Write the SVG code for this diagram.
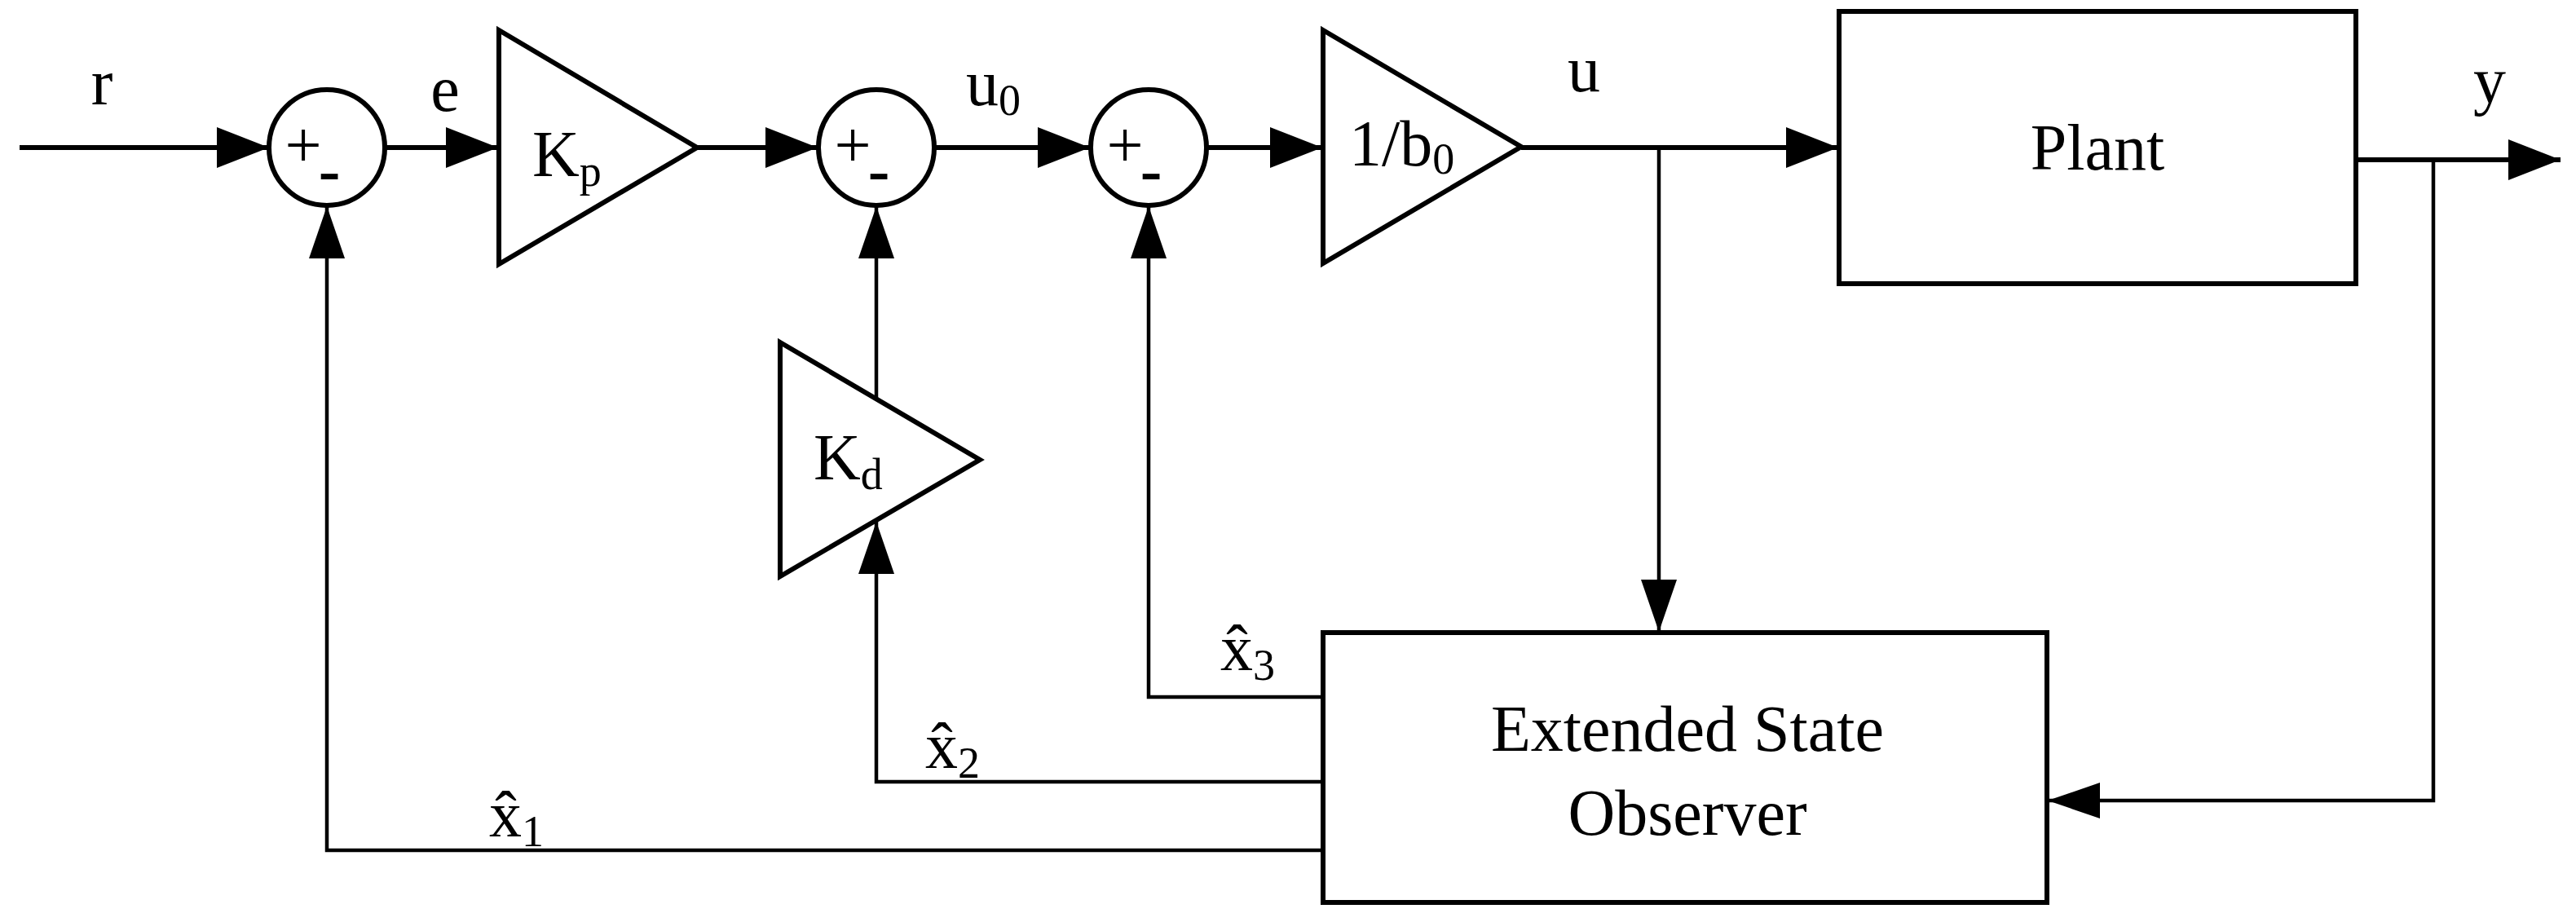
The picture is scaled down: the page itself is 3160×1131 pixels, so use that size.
<svg xmlns="http://www.w3.org/2000/svg" width="3160" height="1131" viewBox="0 0 3160 1131">
<style>
.s{fill:none;stroke:#000;stroke-width:6;stroke-linejoin:miter}
.w{fill:none;stroke:#000;stroke-width:6}
.f{fill:none;stroke:#000;stroke-width:4.5}
.t{font-family:"Liberation Serif",serif;font-size:80px;fill:#000}
.sub{font-size:54px}
.ah{fill:#000}
</style>
<defs>
<marker id="a" markerUnits="userSpaceOnUse" markerWidth="70" markerHeight="60" refX="64" refY="25" orient="auto"><path d="M0,0 L64,25 L0,50 Z" class="ah"/></marker>
<marker id="b" markerUnits="userSpaceOnUse" markerWidth="70" markerHeight="60" refX="64" refY="22" orient="auto"><path d="M0,0 L64,22 L0,44 Z" class="ah"/></marker>
</defs>
<g id="sum1"><circle cx="401" cy="181" r="71" class="s"/><text x="372" y="205" class="t" font-size="70" text-anchor="middle">+</text><text x="404" y="236" class="t" text-anchor="middle" font-weight="bold">-</text></g>
<g id="sum2"><circle cx="1075" cy="181" r="71" class="s"/><text x="1046" y="205" class="t" text-anchor="middle">+</text><text x="1078" y="236" class="t" text-anchor="middle" font-weight="bold">-</text></g>
<g id="sum3"><circle cx="1409" cy="181" r="71" class="s"/><text x="1380" y="205" class="t" text-anchor="middle">+</text><text x="1412" y="236" class="t" text-anchor="middle" font-weight="bold">-</text></g>
<g id="kp"><path d="M612,37 L855,181 L612,324 Z" class="s"/><text x="653" y="216" class="t">K<tspan class="sub" dy="12">p</tspan></text></g>
<g id="kd"><path d="M957,420 L1202,564 L957,707 Z" class="s"/><text x="998" y="588" class="t">K<tspan class="sub" dy="12">d</tspan></text></g>
<g id="b0"><path d="M1623,37 L1866,180 L1623,323 Z" class="s"/><text x="1655" y="203" class="t" font-size="70">1/b<tspan class="sub" dy="10" font-size="50">0</tspan></text></g>
<g id="plant"><rect x="2256" y="14" width="634" height="334" class="s"/><text x="2573" y="208" class="t" font-size="86" text-anchor="middle">Plant</text></g>
<g id="eso"><rect x="1623" y="776" width="888" height="331" class="s"/><text x="2070" y="921" class="t" font-size="82" text-anchor="middle">Extended State</text><text x="2070" y="1024" class="t" font-size="82" text-anchor="middle">Observer</text></g>
<g id="connectors">
<path d="M24,181 H330" class="w" marker-end="url(#a)"/>
<path d="M472,181 H611" class="w" marker-end="url(#a)"/>
<path d="M855,181 H1003" class="w" marker-end="url(#a)"/>
<path d="M1146,181 H1337" class="w" marker-end="url(#a)"/>
<path d="M1480,181 H1622" class="w" marker-end="url(#a)"/>
<path d="M1866,181 H2255" class="w" marker-end="url(#a)"/>
<path d="M2035,181 V775" class="f" marker-end="url(#b)"/>
<path d="M2890,196 H3141" class="w" marker-end="url(#a)"/>
<path d="M2985,196 V982 H2512" class="f" marker-end="url(#b)"/>
<path d="M1623,855 H1409 V253" class="f" marker-end="url(#b)"/>
<path d="M1623,959 H1075 V640" class="f" marker-end="url(#b)"/>
<path d="M1075,489 V253" class="f" marker-end="url(#b)"/>
<path d="M1623,1043 H401 V253" class="f" marker-end="url(#b)"/>
</g>
<g id="labels">
<text x="125" y="128" class="t" text-anchor="middle">r</text>
<text x="546" y="136" class="t" text-anchor="middle">e</text>
<text x="1185" y="129" class="t">u<tspan class="sub" dy="12">0</tspan></text>
<text x="1943" y="112" class="t" text-anchor="middle">u</text>
<text x="3054" y="126" class="t" text-anchor="middle">y</text>
<text x="1497" y="822" class="t">x̂<tspan class="sub" dy="12">3</tspan></text>
<text x="1135" y="942" class="t">x̂<tspan class="sub" dy="12">2</tspan></text>
<text x="600" y="1026" class="t">x̂<tspan class="sub" dy="12">1</tspan></text>
</g>
</svg>
